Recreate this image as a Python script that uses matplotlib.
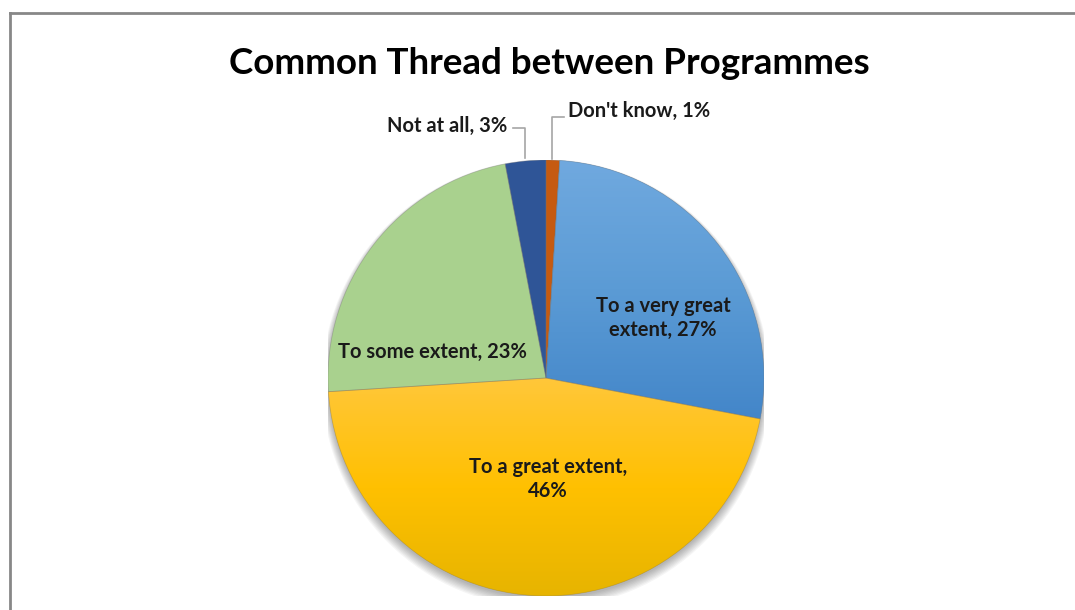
import numpy as np
import matplotlib
matplotlib.use("Agg")
from matplotlib import pyplot as plt
from matplotlib.lines import Line2D
from matplotlib.patches import Circle, Wedge

title = "Common Thread between Programmes"
labels = ["Don't know", "To a very great extent", "To a great extent", "To some extent", "Not at all"]
values = [1, 27, 46, 23, 3]
label_text = ["Don't know, 1%", "To a very great\nextent, 27%", "To a great extent,\n46%",
              "To some extent, 23%", "Not at all, 3%"]

colors = ["#C55A11", "#5B9BD5", "#FFC000", "#A9D18E", "#2F5597"]
# gradient stops (top -> bottom) for the two big slices
gradients = {1: ["#70A9DF", "#5B9BD5", "#4386C9"],
             2: ["#FFC73A", "#FFC000", "#E6B400"]}

plt.rcParams["font.family"] = ["Lato", "DejaVu Sans"]

W, H = 1075, 610
fig = plt.figure(figsize=(W / 100, H / 100), dpi=100)

# pie centre and radius in pixels
cx, cy, r = 546, 378, 218
ax = fig.add_axes([(cx - r) / W, (H - cy - r) / H, 2 * r / W, 2 * r / H])

# soft shadow under the pie
for i in range(8):
    ax.add_patch(Circle((0, -0.012 - i * 0.002), 1.0 + i * 0.004, color="black",
                        alpha=0.04, lw=0, zorder=0))

wedges, _ = ax.pie(values, colors=colors, startangle=90, counterclock=False,
                   radius=1, wedgeprops=dict(linewidth=0))
ax.set_xlim(-1, 1)
ax.set_ylim(-1, 1)
ax.set_aspect("equal")
ax.axis("off")
for w in wedges:
    w.set_zorder(2)

for i, stops in gradients.items():
    cmap = matplotlib.colors.LinearSegmentedColormap.from_list(
        "g%d" % i, list(zip([0, 0.5, 1], stops)))
    t = np.linspace(0, 1, 256)[:, None]
    verts = wedges[i].get_path().vertices
    y_lo, y_hi = verts[:, 1].min(), verts[:, 1].max()
    im = ax.imshow(t, cmap=cmap, vmin=0, vmax=1, extent=(-1, 1, y_lo, y_hi),
                   origin="upper", aspect="auto", zorder=2.5)
    im.set_clip_path(wedges[i])

# thin soft separators between slices
for w in wedges:
    ax.add_patch(Wedge(w.center, w.r, w.theta1, w.theta2, facecolor="none",
                       edgecolor=(0.45, 0.45, 0.45, 0.35), linewidth=0.6, zorder=3))

def px(x, y):
    return (x - cx) / r, (cy - y) / r

lab_px = {1: (663, 318), 2: (548, 479), 3: (432, 352)}
fs = 14.5
for i, (x, y) in lab_px.items():
    ax.text(*px(x, y), label_text[i], ha="center", va="center", fontsize=fs,
            fontweight="bold", color="#1A1A1A", linespacing=1.25, zorder=5)

ax.text(*px(507, 126), label_text[4], ha="right", va="center", fontsize=fs,
        fontweight="bold", color="#1A1A1A", zorder=5)
ax.text(*px(568, 111), label_text[0], ha="left", va="center", fontsize=fs,
        fontweight="bold", color="#1A1A1A", zorder=5)

lc = "#A6A6A6"
x1, y1 = px(513, 128)
x2, y2 = px(525, 158)
ax.plot([x1, x2, x2], [y1, y1, y2], color=lc, lw=1.2, clip_on=False, zorder=4)
x1, y1 = px(552, 159)
x2, y2 = px(564, 117)
ax.plot([x1, x1, x2], [y1, y2, y2], color=lc, lw=1.2, clip_on=False, zorder=4)

fig.text(549 / W, 1 - 63 / H, title, ha="center", va="center", fontsize=26.5,
         fontweight="bold", color="black")

# chart area border (top and left edges visible)
bc = "#878787"
fig.add_artist(Line2D([9.5 / W, 1], [1 - 13 / H, 1 - 13 / H], color=bc, lw=2))
fig.add_artist(Line2D([9.5 / W, 9.5 / W], [0, 1 - 13 / H], color=bc, lw=2))

fig.savefig("out.png", dpi=100)
